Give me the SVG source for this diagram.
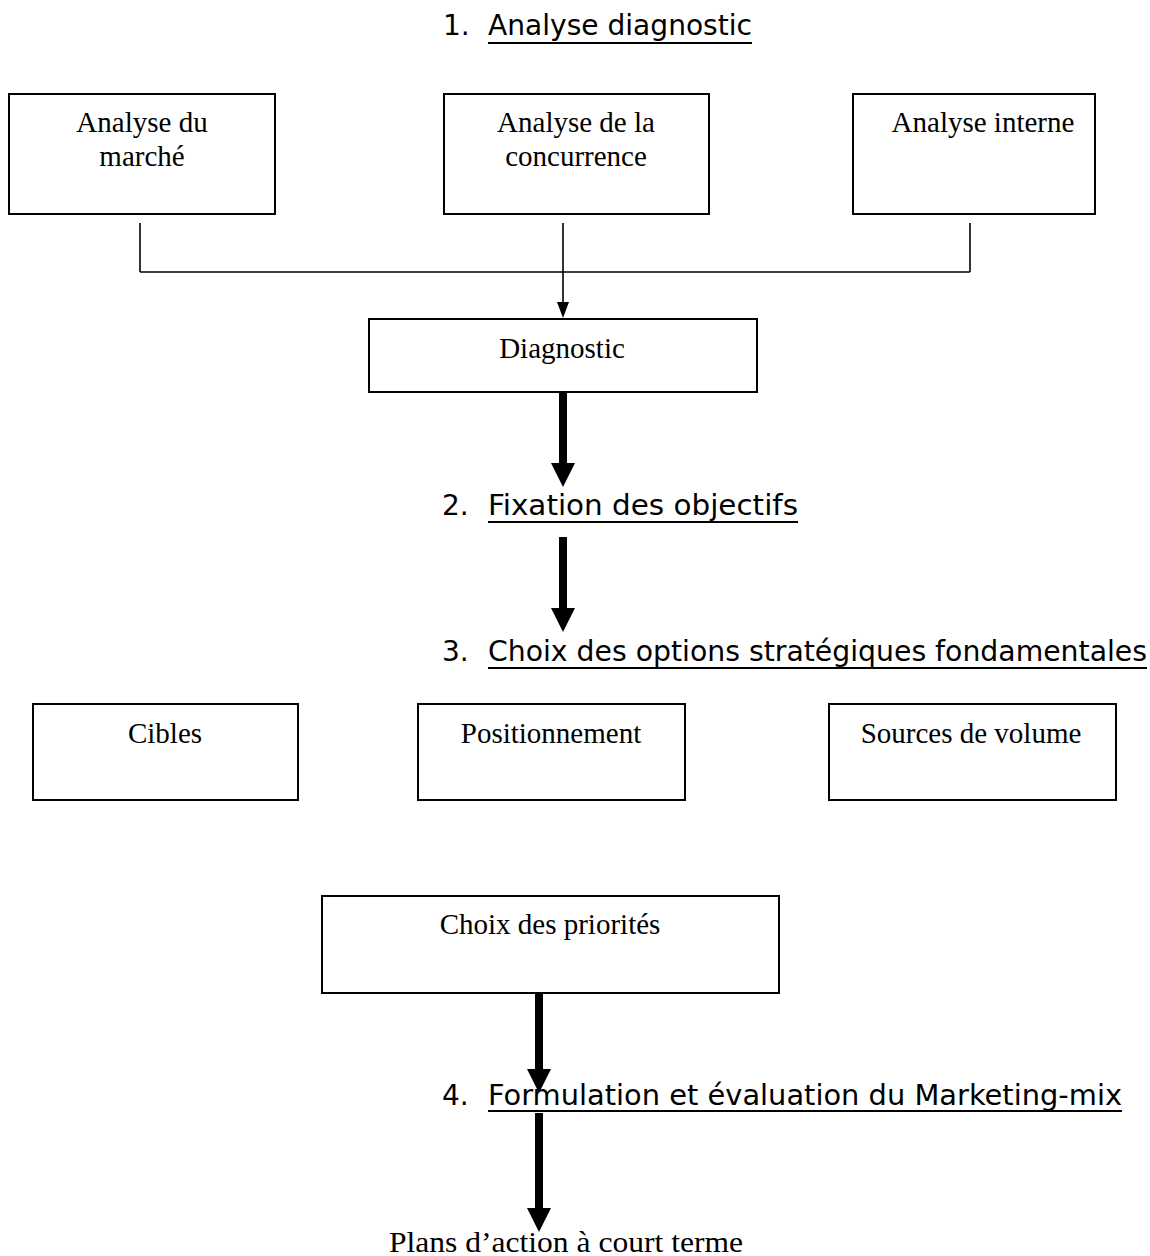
<svg xmlns="http://www.w3.org/2000/svg" width="1150" height="1256" viewBox="0 0 1150 1256">
<style>
.box{fill:#fff;stroke:#000;stroke-width:2}
.bt{font-family:"Liberation Serif","Times New Roman",serif;font-size:29px;fill:#000;text-anchor:middle}
.ht{font-family:"DejaVu Sans","Verdana",sans-serif;font-size:28px;fill:#000}
.ul{stroke:#000;stroke-width:2.2}
.thin{stroke:#000;stroke-width:1.6;fill:none}
.thick{stroke:#000;stroke-width:8;fill:none}
</style>
<defs>
<marker id="headThin" markerUnits="userSpaceOnUse" markerWidth="16" markerHeight="12" refX="0" refY="6" orient="auto">
<path d="M0,0 L16,6 L0,12 z" fill="#000"/>
</marker>
<marker id="headThick" markerUnits="userSpaceOnUse" markerWidth="24" markerHeight="24" refX="0" refY="12" orient="auto">
<path d="M0,0 L24,12 L0,24 z" fill="#000"/>
</marker>
</defs>
<rect width="1150" height="1256" fill="#fff"/>

<g id="heading1">
<text class="ht" x="443" y="35">1.</text>
<text class="ht" x="488" y="35" textLength="264" lengthAdjust="spacingAndGlyphs">Analyse diagnostic</text>
<line class="ul" x1="488" y1="43" x2="752" y2="43"/>
</g>

<g id="analyse-marche">
<rect class="box" x="9" y="94" width="266" height="120"/>
<text class="bt" x="142" y="132">Analyse du</text>
<text class="bt" x="142" y="166">marché</text>
</g>

<g id="analyse-concurrence">
<rect class="box" x="444" y="94" width="265" height="120"/>
<text class="bt" x="576" y="132">Analyse de la</text>
<text class="bt" x="576" y="166">concurrence</text>
</g>

<g id="analyse-interne">
<rect class="box" x="853" y="94" width="242" height="120"/>
<text class="bt" x="983" y="132">Analyse interne</text>
</g>

<g id="diagnostic">
<rect class="box" x="369" y="319" width="388" height="73"/>
<text class="bt" x="562" y="358">Diagnostic</text>
</g>

<g id="heading2">
<text class="ht" x="442" y="515">2.</text>
<text class="ht" x="488" y="515" textLength="310" lengthAdjust="spacingAndGlyphs">Fixation des objectifs</text>
<line class="ul" x1="488" y1="522" x2="798" y2="522"/>
</g>

<g id="heading3">
<text class="ht" x="442" y="661">3.</text>
<text class="ht" x="488" y="661" textLength="659" lengthAdjust="spacingAndGlyphs">Choix des options stratégiques fondamentales</text>
<line class="ul" x1="488" y1="668" x2="1147" y2="668"/>
</g>

<g id="cibles">
<rect class="box" x="33" y="704" width="265" height="96"/>
<text class="bt" x="165" y="743">Cibles</text>
</g>

<g id="positionnement">
<rect class="box" x="418" y="704" width="267" height="96"/>
<text class="bt" x="551" y="743">Positionnement</text>
</g>

<g id="sources-volume">
<rect class="box" x="829" y="704" width="287" height="96"/>
<text class="bt" x="971" y="743">Sources de volume</text>
</g>

<g id="choix-priorites">
<rect class="box" x="322" y="896" width="457" height="97"/>
<text class="bt" x="550" y="934">Choix des priorités</text>
</g>

<g id="heading4">
<text class="ht" x="442" y="1105">4.</text>
<text class="ht" x="488" y="1105" textLength="634" lengthAdjust="spacingAndGlyphs">Formulation et évaluation du Marketing-mix</text>
<line class="ul" x1="488" y1="1111" x2="1122" y2="1111"/>
</g>

<g id="plans-action">
<text class="bt" x="389" y="1252" style="text-anchor:start;font-size:30px" textLength="354" lengthAdjust="spacingAndGlyphs">Plans d’action à court terme</text>
</g>

<g id="connectors">
<line class="thin" x1="140" y1="223" x2="140" y2="272"/>
<line class="thin" x1="970" y1="223" x2="970" y2="272"/>
<line class="thin" x1="140" y1="272" x2="970" y2="272"/>
<line class="thin" x1="563" y1="223" x2="563" y2="302" marker-end="url(#headThin)"/>
<line class="thick" x1="563" y1="392" x2="563" y2="463" marker-end="url(#headThick)"/>
<line class="thick" x1="563" y1="537" x2="563" y2="608" marker-end="url(#headThick)"/>
<line class="thick" x1="539" y1="993" x2="539" y2="1069" marker-end="url(#headThick)"/>
<line class="thick" x1="539" y1="1113" x2="539" y2="1208" marker-end="url(#headThick)"/>
</g>
</svg>
